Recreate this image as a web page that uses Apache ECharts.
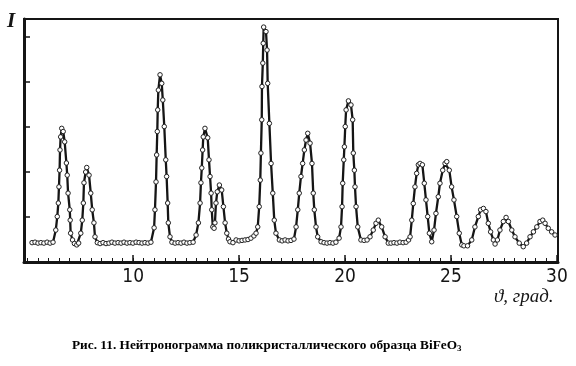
<!DOCTYPE html>
<html>
<head>
<meta charset="utf-8">
<script src="https://cdn.jsdelivr.net/npm/echarts@6/dist/echarts.min.js"></script>
<style>
html,body{margin:0;padding:0;background:#fff;}
#chart{width:576px;height:366px;}
</style>
</head>
<body>
<div id="chart"></div>
<script>
// Diffraction angle θ (deg) and intensity (arb. units)
var theta = [
  5.23, 5.37, 5.51, 5.65, 5.79, 5.94, 6.08, 6.22,
  6.35, 6.42, 6.47, 6.50, 6.53, 6.55, 6.58, 6.63, 6.70, 6.77, 6.85, 6.89, 6.93, 7.01, 7.03, 7.05, 7.14, 7.23, 7.34,
  7.43, 7.53, 7.60, 7.65, 7.68, 7.76, 7.81, 7.92, 8.00, 8.07, 8.15, 8.20, 8.31,
  8.44, 8.58, 8.72, 8.86, 9.00, 9.14, 9.29, 9.43, 9.57, 9.71, 9.85, 9.99, 10.14, 10.28, 10.42, 10.56, 10.70, 10.84,
  10.99, 11.03, 11.08, 11.11, 11.14, 11.16, 11.19, 11.27, 11.35, 11.40, 11.47, 11.54, 11.58, 11.63, 11.66, 11.74, 11.83,
  11.98, 12.12, 12.26, 12.40, 12.54, 12.68, 12.83,
  12.97, 13.08, 13.16, 13.20, 13.24, 13.28, 13.31, 13.39, 13.52, 13.58, 13.63, 13.68, 13.71, 13.76, 13.82,
  13.86, 13.91, 13.97, 14.07, 14.18, 14.26, 14.34, 14.42, 14.50, 14.57,
  14.71, 14.86, 15.00, 15.14, 15.28, 15.42, 15.56, 15.70,
  15.80, 15.88, 15.95, 16.00, 16.03, 16.07, 16.08, 16.12, 16.14, 16.16, 16.27, 16.32, 16.35, 16.43, 16.51, 16.59, 16.66, 16.74, 16.90,
  17.03, 17.17, 17.31, 17.45, 17.59,
  17.69, 17.77, 17.84, 17.92, 18.00, 18.08, 18.16, 18.24, 18.35, 18.44, 18.50, 18.55, 18.63, 18.71, 18.87,
  19.01, 19.15, 19.29, 19.43, 19.57, 19.72,
  19.81, 19.86, 19.89, 19.94, 19.97, 20.01, 20.05, 20.16, 20.28, 20.36, 20.39, 20.44, 20.47, 20.52, 20.60, 20.75,
  20.90, 21.04,
  21.18, 21.33, 21.46, 21.57, 21.73, 21.89, 22.04,
  22.17, 22.31, 22.45, 22.59, 22.74, 22.88, 23.00,
  23.07, 23.15, 23.22, 23.30, 23.38, 23.46, 23.54, 23.65, 23.74, 23.82, 23.90, 23.98, 24.09,
  24.20, 24.29, 24.40, 24.48, 24.61, 24.72, 24.80, 24.92, 25.03, 25.14, 25.27, 25.39, 25.51,
  25.61, 25.78,
  25.98, 26.13, 26.29, 26.40, 26.53, 26.65, 26.76, 26.87, 27.00, 27.08,
  27.19, 27.31, 27.47, 27.60, 27.71, 27.87, 28.02, 28.22, 28.41,
  28.57, 28.73, 28.89, 29.05, 29.20, 29.33, 29.44, 29.59, 29.75, 29.91
];
var intensity = [
  4.3, 4.4, 4.2, 4.3, 4.2, 4.4, 4.2, 4.4,
  7.1, 10.1, 13.1, 16.7, 20.4, 24.9, 27.8, 29.7, 29.0, 26.7, 22.0, 19.3, 15.3, 11.6, 9.3, 6.4, 4.9, 4.1, 3.8,
  4.2, 6.4, 9.3, 13.1, 17.6, 20.0, 21.0, 19.3, 15.3, 11.6, 8.7, 5.6, 4.3,
  4.1, 4.3, 4.1, 4.2, 4.4, 4.2, 4.3, 4.2, 4.4, 4.2, 4.3, 4.2, 4.4, 4.3, 4.2, 4.3, 4.2, 4.4,
  7.6, 11.6, 17.8, 23.8, 29.0, 33.8, 38.2, 41.6, 39.7, 36.0, 30.1, 22.7, 19.0, 13.1, 8.7, 5.6, 4.4,
  4.2, 4.3, 4.2, 4.4, 4.2, 4.3, 4.4,
  6.0, 8.7, 13.1, 17.6, 20.9, 24.9, 27.8, 29.7, 27.6, 22.7, 19.0, 15.3, 11.6, 7.8, 7.5,
  8.7, 13.1, 15.6, 17.1, 16.0, 12.3, 8.7, 6.4, 5.1, 4.5,
  4.3, 4.9, 4.7, 4.8, 4.9, 5.0, 5.3, 5.8,
  6.4, 7.8, 12.3, 18.2, 24.2, 31.6, 39.0, 44.2, 48.6, 52.2, 51.2, 47.1, 39.7, 30.8, 21.9, 15.3, 9.3, 6.4, 4.9,
  4.7, 4.9, 4.7, 4.8, 5.1,
  7.8, 11.6, 15.3, 19.0, 21.9, 24.9, 27.1, 28.6, 26.4, 21.9, 15.3, 11.6, 7.8, 5.6, 4.5,
  4.3, 4.2, 4.3, 4.2, 4.4, 5.3,
  7.8, 12.3, 17.5, 22.7, 25.6, 30.1, 33.8, 35.8, 34.9, 31.6, 24.2, 20.4, 16.7, 12.3, 7.8, 4.9,
  4.8, 4.9,
  5.6, 7.1, 8.6, 9.3, 7.8, 5.6, 4.2,
  4.2, 4.3, 4.2, 4.4, 4.3, 4.4, 4.9,
  5.6, 9.3, 13.0, 16.7, 19.7, 21.6, 21.9, 21.6, 17.5, 13.8, 10.1, 6.4, 4.5,
  7.1, 10.8, 14.5, 17.5, 20.4, 21.9, 22.3, 20.4, 16.7, 13.8, 10.1, 6.4, 3.8,
  3.6, 3.6,
  4.9, 7.8, 10.1, 11.6, 11.9, 11.2, 8.6, 6.7, 4.9, 4.0,
  4.9, 7.1, 9.0, 9.9, 9.0, 7.1, 5.6, 4.2, 3.4,
  4.2, 5.6, 6.7, 7.8, 9.0, 9.3, 8.6, 7.5, 6.7, 6.0
];
var xTickLabels = [10, 15, 20, 25, 30];
var yTicks = [10, 20, 30, 40, 50];
var xMinorTicks = [];
for (var t = 5; t <= 30.001; t += 0.5) { xMinorTicks.push(Math.round(t * 10) / 10); }

var points = theta.map(function (x, i) { return [x, intensity[i]]; });

var chart = echarts.init(document.getElementById('chart'), null, {renderer: 'canvas'});
var ink = '#151515';
chart.setOption({
  animation: false,
  backgroundColor: '#fff',
  grid: {
    left: 24, right: 18, top: 19, bottom: 104,
    outerBoundsMode: 'none',
    show: true, borderColor: ink, borderWidth: 2, backgroundColor: 'transparent'
  },
  xAxis: [{
    type: 'value', min: 4.85, max: 30.05,
    axisLine: {show: true, onZero: false, lineStyle: {color: ink, width: 3}},
    axisTick: {show: true, inside: true, length: 4, customValues: xMinorTicks, lineStyle: {color: ink, width: 1}},
    axisLabel: {show: true, customValues: xTickLabels, margin: 6, color: ink,
      fontFamily: '"Liberation Sans Narrow", "DejaVu Sans Condensed", sans-serif', fontSize: 19},
    splitLine: {show: false}
  }, {
    type: 'value', min: 4.85, max: 30.05, position: 'bottom',
    axisLine: {show: false},
    axisTick: {show: true, inside: true, length: 7, customValues: xTickLabels, lineStyle: {color: ink, width: 1.5}},
    axisLabel: {show: false},
    splitLine: {show: false}
  }],
  yAxis: {
    type: 'value', min: 0, max: 54, interval: 10,
    axisLine: {show: true, onZero: false, lineStyle: {color: ink, width: 3}},
    axisTick: {show: true, inside: true, length: 6, customValues: yTicks, lineStyle: {color: ink, width: 1.5}},
    axisLabel: {show: false},
    splitLine: {show: false}
  },
  series: [{
    type: 'line',
    data: points,
    xAxisIndex: 0,
    symbol: 'circle',
    symbolSize: 4.5,
    showAllSymbol: true,
    lineStyle: {color: ink, width: 2.3},
    itemStyle: {color: '#fff', borderColor: '#222', borderWidth: 1},
    z: 3
  }],
  graphic: [
    {type: 'text', left: 7, top: 11, style: {text: 'I', fill: ink,
      font: 'italic bold 21px "Liberation Serif", serif'}},
    {type: 'text', left: 494, top: 287, style: {text: 'ϑ, град.', fill: ink,
      font: 'italic 19px "Liberation Serif", serif'}},
    {type: 'text', left: 72, top: 339, style: {
      text: 'Рис. 11. Нейтронограмма поликристаллического образца BiFeO{sub|3}',
      fill: '#000', font: 'bold 13.3px "Liberation Serif", serif',
      rich: {sub: {font: 'bold 9px "Liberation Serif", serif', fill: '#000', verticalAlign: 'bottom', padding: [6, 0, 0, 0]}}
    }}
  ]
});
</script>
</body>
</html>
